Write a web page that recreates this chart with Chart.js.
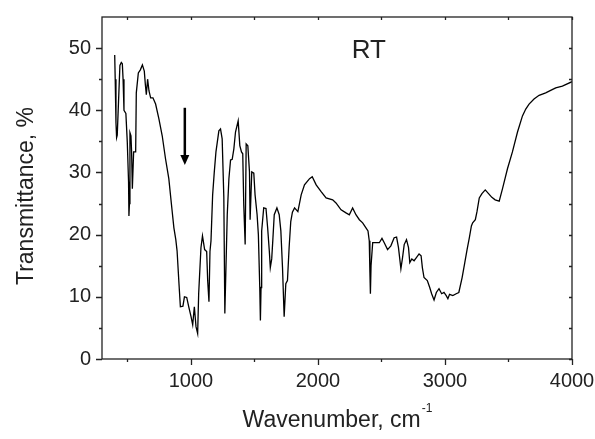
<!DOCTYPE html>
<html>
<head>
<meta charset="utf-8">
<script src="https://cdn.jsdelivr.net/npm/chart.js@4/dist/chart.umd.min.js"></script>
<style>
  body { margin: 0; background: #fff; }
  #wrap { width: 595px; height: 439px; }
</style>
</head>
<body>
<div id="wrap"><canvas id="irChart" width="595" height="439"></canvas></div>
<script>
// FTIR spectrum
const wavenumber = [
  400, 404, 410, 415, 420, 441, 452, 460, 466, 473, 488, 499, 509, 512, 516, 520, 528, 533, 539, 549,
  565, 570, 586, 602, 618, 633, 641, 649, 659, 670, 683, 701, 722, 748, 774, 800, 826, 847, 866, 881,
  891, 906, 917, 937, 949, 967, 983, 1001, 1014, 1027, 1040, 1053, 1061, 1079, 1091, 1108, 1124, 1132, 1142, 1150,
  1158, 1171, 1184, 1197, 1220, 1233, 1246, 1259, 1267, 1286, 1299, 1312, 1325, 1338, 1351, 1372, 1385, 1398, 1408, 1416,
  1427, 1435, 1448, 1461, 1466, 1479, 1495, 1505, 1521, 1531, 1542, 1547, 1552, 1557, 1573, 1591, 1604, 1617, 1625, 1636,
  1645, 1656, 1677, 1695, 1708, 1721, 1734, 1747, 1760, 1773, 1786, 1799, 1816, 1842, 1868, 1894, 1934, 1955, 1986, 2025,
  2064, 2116, 2142, 2182, 2221, 2247, 2273, 2299, 2326, 2352, 2378, 2394, 2404, 2409, 2413, 2418, 2431, 2483, 2504, 2522,
  2548, 2574, 2600, 2619, 2634, 2653, 2666, 2679, 2697, 2713, 2723, 2739, 2757, 2775, 2796, 2812, 2822, 2835, 2861, 2880,
  2895, 2914, 2932, 2953, 2974, 2992, 3010, 3023, 3036, 3062, 3088, 3109, 3135, 3156, 3174, 3192, 3208, 3218, 3239, 3252,
  3270, 3291, 3317, 3343, 3369, 3395, 3427, 3453, 3492, 3531, 3571, 3610, 3636, 3662, 3701, 3741, 3793, 3832, 3872, 3924,
  4000
];
const transmittance = [
  48.9, 45.0, 38.0, 35.6, 36.0, 47.2, 47.7, 47.5, 45.0, 40.0, 39.5, 34.9, 28.5, 23.0, 25.0, 36.4, 35.9, 33.3, 27.4, 33.3,
  33.3, 42.8, 46.0, 46.5, 47.3, 46.3, 44.2, 42.5, 45.0, 43.1, 42.0, 42.0, 41.0, 38.6, 35.9, 32.2, 29.0, 24.8, 21.1, 19.2,
  17.4, 12.1, 8.4, 8.5, 10.0, 9.9, 8.4, 6.8, 5.5, 8.4, 5.2, 4.1, 10.5, 17.9, 19.8, 17.6, 17.3, 12.6, 9.2, 17.3,
  19.0, 26.4, 30.1, 33.3, 36.7, 37.0, 35.4, 26.1, 7.3, 23.2, 29.0, 32.0, 32.1, 33.8, 36.5, 38.3, 34.3, 33.3, 33.0, 24.8,
  18.4, 34.6, 34.3, 30.1, 22.4, 30.1, 29.9, 26.4, 23.2, 20.0, 11.5, 6.2, 11.5, 20.6, 24.3, 24.2, 21.1, 17.4, 14.7, 16.1,
  19.2, 23.2, 24.3, 23.2, 20.6, 14.7, 6.8, 12.1, 12.6, 17.9, 22.1, 23.6, 24.3, 23.7, 26.4, 28.0, 29.0, 29.3, 28.0, 26.9,
  25.9, 25.6, 25.1, 24.0, 23.5, 23.2, 24.3, 23.2, 22.4, 21.9, 21.1, 20.6, 19.0, 14.0, 10.5, 15.0, 18.7, 18.7, 19.4, 18.7,
  17.6, 18.2, 19.5, 19.6, 17.9, 14.5, 16.3, 18.4, 19.2, 17.9, 15.5, 16.1, 15.8, 16.3, 16.9, 16.6, 14.7, 13.1, 12.6, 11.5,
  10.5, 9.5, 10.7, 11.3, 10.5, 10.7, 10.2, 9.7, 10.4, 10.2, 10.5, 10.7, 13.1, 15.5, 17.6, 19.5, 21.4, 21.9, 22.4, 23.7,
  25.9, 26.6, 27.2, 26.6, 26.0, 25.6, 25.4, 27.4, 30.6, 33.3, 36.5, 39.1, 40.2, 41.0, 41.8, 42.4, 42.8, 43.2, 43.6, 43.9,
  44.6
];

const xMajor = [1000, 2000, 3000, 4000];
const xMinor = [500, 1500, 2500, 3500];
const yMajor = [0, 10, 20, 30, 40, 50];
const yMinor = [5, 15, 25, 35, 45];

const fontFamily = '"Liberation Sans", Arial, sans-serif';
const ink = '#222';

// frame, tick marks, titles and the annotations
const decorations = {
  id: 'decorations',
  afterDraw(chart) {
    const { ctx, chartArea: a, scales: { x, y } } = chart;
    ctx.save();
    ctx.strokeStyle = ink;
    ctx.lineWidth = 1.3;
    ctx.strokeRect(a.left, a.top, a.right - a.left, a.bottom - a.top);

    ctx.beginPath();
    const xt = (v, len) => {
      const px = Math.round(x.getPixelForValue(v)) + 0.5;
      ctx.moveTo(px, a.bottom); ctx.lineTo(px, a.bottom + len);
      ctx.moveTo(px, a.top); ctx.lineTo(px, a.top + 3);
    };
    const yt = (v, len) => {
      const py = Math.round(y.getPixelForValue(v)) + 0.5;
      ctx.moveTo(a.left, py); ctx.lineTo(a.left - len, py);
      ctx.moveTo(a.right, py); ctx.lineTo(a.right - 3, py);
    };
    xMajor.forEach(v => xt(v, 6));
    xMinor.forEach(v => xt(v, 3));
    yMajor.forEach(v => yt(v, 6));
    yMinor.forEach(v => yt(v, 3));
    ctx.stroke();

    ctx.fillStyle = ink;
    // x title with superscript
    ctx.font = '23px ' + fontFamily;
    ctx.textBaseline = 'alphabetic';
    const main = 'Wavenumber, cm';
    const sup = '-1';
    const mw = ctx.measureText(main).width;
    ctx.font = '12px ' + fontFamily;
    const sw = ctx.measureText(sup).width;
    const cx = (a.left + a.right) / 2;
    const startX = cx - (mw + sw) / 2;
    ctx.font = '23px ' + fontFamily;
    ctx.textAlign = 'left';
    ctx.fillText(main, startX, 427);
    ctx.font = '12px ' + fontFamily;
    ctx.fillText(sup, startX + mw + 1, 412);

    // y title
    ctx.save();
    ctx.translate(33, (a.top + a.bottom) / 2 + 8);
    ctx.rotate(-Math.PI / 2);
    ctx.font = '23px ' + fontFamily;
    ctx.textAlign = 'center';
    ctx.fillText('Transmittance, %', 0, 0);
    ctx.restore();

    // sample label
    ctx.font = '26px ' + fontFamily;
    ctx.textAlign = 'center';
    ctx.textBaseline = 'middle';
    ctx.fillText('RT', x.getPixelForValue(2400), y.getPixelForValue(49.5));

    // arrow
    const ax = x.getPixelForValue(952);
    const y0 = y.getPixelForValue(40.4);
    const y1 = y.getPixelForValue(31.2);
    ctx.lineWidth = 2.5;
    ctx.strokeStyle = '#000';
    ctx.beginPath();
    ctx.moveTo(ax, y0); ctx.lineTo(ax, y1 - 8);
    ctx.stroke();
    ctx.fillStyle = '#000';
    ctx.beginPath();
    ctx.moveTo(ax - 4.5, y1 - 10);
    ctx.lineTo(ax + 4.5, y1 - 10);
    ctx.lineTo(ax, y1);
    ctx.closePath();
    ctx.fill();
    ctx.restore();
  }
};

new Chart(document.getElementById('irChart'), {
  type: 'line',
  data: {
    datasets: [{
      data: wavenumber.map((w, i) => ({ x: w, y: transmittance[i] })),
      borderColor: '#000',
      borderWidth: 1.3,
      pointRadius: 0,
      tension: 0,
      fill: false
    }]
  },
  options: {
    responsive: false,
    animation: false,
    layout: { padding: { top: 15, right: 23, left: 0, bottom: 0 } },
    plugins: {
      legend: { display: false },
      tooltip: { enabled: false }
    },
    scales: {
      x: {
        type: 'linear',
        min: 300,
        max: 4000,
        afterBuildTicks: s => { s.ticks = xMajor.map(v => ({ value: v })); },
        afterFit: s => { s.height = 80; s.paddingRight = 0; s.paddingLeft = 0; },
        grid: { display: false, drawTicks: true, tickLength: 6 },
        border: { display: false },
        ticks: {
          color: ink,
          font: { family: fontFamily, size: 20 },
          padding: 4,
          maxRotation: 0,
          autoSkip: false,
          callback: v => String(v)
        }
      },
      y: {
        min: 0,
        max: 55,
        afterBuildTicks: s => { s.ticks = yMajor.map(v => ({ value: v })); },
        afterFit: s => { s.width = 102; },
        grid: { display: false, drawTicks: true, tickLength: 6 },
        border: { display: false },
        ticks: {
          color: ink,
          font: { family: fontFamily, size: 20 },
          padding: 5,
          callback: v => String(v)
        }
      }
    }
  },
  plugins: [decorations]
});
</script>
</body>
</html>
